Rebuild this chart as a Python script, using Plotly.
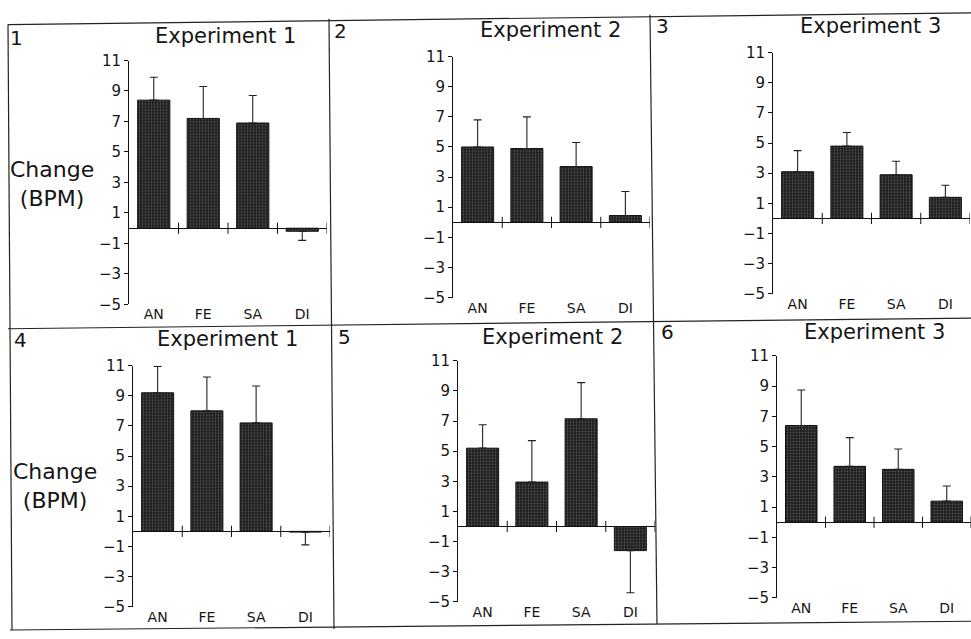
import plotly.graph_objects as go

# ---------------- data ----------------
CATEGORIES = ["AN", "FE", "SA", "DI"]

MEANS_1 = [8.4, 7.2, 6.9, -0.2]
ERRS_1 = [1.5, 2.1, 1.8, 0.6]
MEANS_2 = [5.0, 4.9, 3.7, 0.45]
ERRS_2 = [1.8, 2.1, 1.6, 1.6]
MEANS_3 = [3.1, 4.8, 2.9, 1.4]
ERRS_3 = [1.4, 0.9, 0.9, 0.8]
MEANS_4 = [9.2, 8.0, 7.2, -0.05]
ERRS_4 = [1.75, 2.25, 2.45, 0.85]
MEANS_5 = [5.2, 2.95, 7.15, -1.6]
ERRS_5 = [1.55, 2.75, 2.4, 2.8]
MEANS_6 = [6.4, 3.7, 3.5, 1.4]
ERRS_6 = [2.35, 1.9, 1.35, 1.0]

TITLES = ["Experiment 1", "Experiment 2", "Experiment 3",
          "Experiment 1", "Experiment 2", "Experiment 3"]
PANEL_NUMBERS = ["1", "2", "3", "4", "5", "6"]
Y_LABEL = "Change<br>(BPM)"
Y_TICKS = [-5, -3, -1, 1, 3, 5, 7, 9, 11]
Y_RANGE = [-5, 11]

MEANS = [MEANS_1, MEANS_2, MEANS_3, MEANS_4, MEANS_5, MEANS_6]
ERRS = [ERRS_1, ERRS_2, ERRS_3, ERRS_4, ERRS_5, ERRS_6]

# ---------------- layout geometry (pixels) ----------------
W, H = 971, 639


def px(x):
    return x / W


def py(y):
    return 1 - y / H


# (left, right, top, bottom) of each plot area
BOXES = [(129, 327, 53, 304), (453, 650, 49, 297), (773, 970, 45, 293),
         (133, 330, 367, 615), (458, 655, 362, 610), (777, 971, 357, 606)]
TITLE_POS = [(225, 28), (550, 22), (870, 17), (227, 340), (552, 337), (874, 332)]
NUM_POS = [(16, 30), (340, 23), (662, 17), (20, 341), (344, 337), (667, 332)]
YLABEL_POS = [(52, 180), (55, 491)]

FONT = "DejaVu Sans"
INK = "#151515"

fig = go.Figure()

xs = list(range(len(CATEGORIES)))
bounds = [i + 0.5 for i in xs]

for k in range(6):
    sfx = "" if k == 0 else str(k + 1)
    v = MEANS[k]
    e = ERRS[k]
    up = [ee if vv >= 0 else 0 for vv, ee in zip(v, e)]
    dn = [ee if vv < 0 else 0 for vv, ee in zip(v, e)]
    fig.add_trace(go.Bar(
        x=xs, y=v, width=0.65,
        marker=dict(color="#1c1c1c", line=dict(color="#111", width=1),
                    pattern=dict(shape=".", fgcolor="#8c8c8c", size=3, solidity=0.3)),
        error_y=dict(type="data", symmetric=False, array=up, arrayminus=dn,
                     color="#222", thickness=1.1, width=4),
        xaxis="x" + sfx, yaxis="y" + sfx, showlegend=False, hoverinfo="skip",
    ))
    fig.add_trace(go.Scatter(
        x=bounds, y=[0] * len(bounds), mode="markers",
        marker=dict(symbol="line-ns", size=8, line=dict(color="#111", width=1)),
        xaxis="x" + sfx, yaxis="y" + sfx, showlegend=False, hoverinfo="skip",
    ))
    l, r, t, b = BOXES[k]
    fig.layout["xaxis" + sfx] = dict(
        domain=[px(l), px(r)], range=[-0.5, len(CATEGORIES) - 0.5],
        anchor="y" + sfx, tickvals=xs, ticktext=CATEGORIES,
        showline=False, showgrid=False, zeroline=False, ticks="",
        tickfont=dict(family=FONT, size=14, color=INK), fixedrange=True,
    )
    fig.layout["yaxis" + sfx] = dict(
        domain=[py(b), py(t)], range=Y_RANGE, anchor="x" + sfx,
        tickvals=Y_TICKS, showline=True, linecolor="#111", linewidth=1,
        ticks="outside", ticklen=4, tickcolor="#111", tickwidth=1,
        showgrid=False, zeroline=True, zerolinecolor="#111", zerolinewidth=1,
        tickfont=dict(family=FONT, size=15, color=INK), fixedrange=True,
    )

annotations = []
for k in range(6):
    tx, ty = TITLE_POS[k]
    annotations.append(dict(text=TITLES[k], x=px(tx), y=py(ty), xref="paper", yref="paper",
                            showarrow=False, xanchor="center", yanchor="middle",
                            font=dict(family=FONT, size=21, color=INK)))
    nx, ny = NUM_POS[k]
    annotations.append(dict(text=PANEL_NUMBERS[k], x=px(nx), y=py(ny), xref="paper", yref="paper",
                            showarrow=False, xanchor="center", yanchor="middle",
                            font=dict(family=FONT, size=20, color=INK)))
for (lx, ly) in YLABEL_POS:
    annotations.append(dict(text=Y_LABEL, x=px(lx), y=py(ly), xref="paper", yref="paper",
                            showarrow=False, xanchor="center", yanchor="middle",
                            font=dict(family=FONT, size=22, color=INK)))

# panel frame lines (slightly skewed like the scanned page)
FRAME = [((8, 16), (971, 4)), ((8, 329), (971, 318)), ((10, 639), (971, 630)),
         ((8, 16), (12, 639)), ((329, 10), (334, 638)), ((650, 6), (657, 633))]
shapes = [dict(type="line", xref="paper", yref="paper",
               x0=px(a[0]), y0=py(a[1]), x1=px(c[0]), y1=py(c[1]),
               line=dict(color="#222", width=1.2)) for a, c in FRAME]

fig.update_layout(
    width=W, height=H, margin=dict(l=0, r=0, t=0, b=0),
    paper_bgcolor="white", plot_bgcolor="white",
    annotations=annotations, shapes=shapes, bargap=0.35,
)

fig.write_html("out.html", config={"displayModeBar": False},
               post_script="document.body.style.margin='0px';document.body.style.overflow='hidden';")
